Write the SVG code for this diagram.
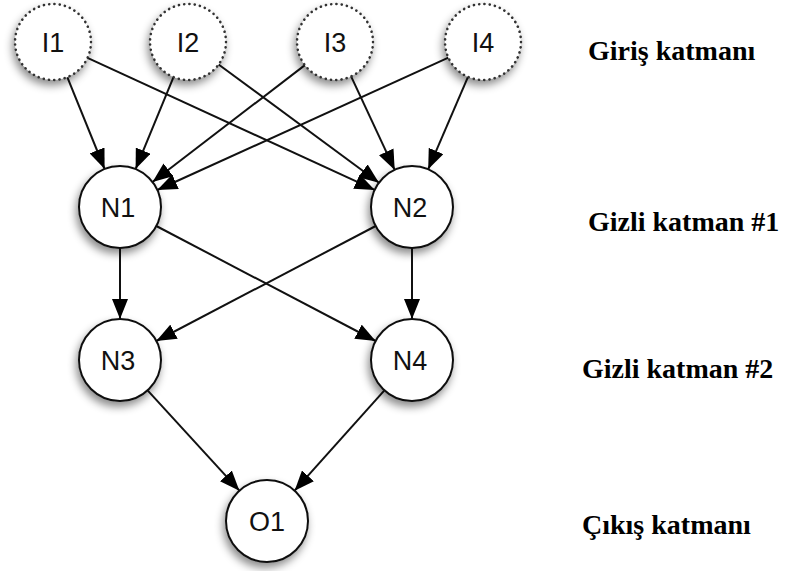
<svg xmlns="http://www.w3.org/2000/svg" width="786" height="571" viewBox="0 0 786 571">
<style>
.bg{fill:#fff}
.inp{fill:#fff;stroke:#333;stroke-width:2.6;stroke-dasharray:0.1 5.2;stroke-linecap:round}
.hid{fill:#fff;stroke:#111;stroke-width:2}
.e{stroke:#111;stroke-width:2;fill:none;marker-end:url(#ah)}
</style>
<defs>
<filter id="sh" x="-50%" y="-50%" width="200%" height="200%">
<feDropShadow dx="-2" dy="5" stdDeviation="4" flood-color="#000" flood-opacity="0.45"/>
</filter>
<marker id="ah" markerUnits="userSpaceOnUse" markerWidth="22" markerHeight="16" refX="20" refY="8" orient="auto">
<path d="M0,0 L20,8 L0,16 Z" fill="#000"/>
</marker>
</defs>
<rect class="bg" width="786" height="571"/>
<g id="connectors">
<line class="e" x1="67.3" y1="77.2" x2="104.6" y2="169"/>
<line class="e" x1="87.5" y1="57.9" x2="374.7" y2="189.9"/>
<line class="e" x1="173.5" y1="77.1" x2="135.6" y2="169.1"/>
<line class="e" x1="218.6" y1="64.5" x2="379" y2="182.7"/>
<line class="e" x1="304.9" y1="65.1" x2="152.5" y2="182"/>
<line class="e" x1="351.1" y1="76.4" x2="394.7" y2="169.9"/>
<line class="e" x1="448.4" y1="57.7" x2="157.3" y2="190"/>
<line class="e" x1="468" y1="76.9" x2="428.2" y2="169.3"/>
<line class="e" x1="120" y1="248" x2="120" y2="319"/>
<line class="e" x1="156.3" y1="226" x2="375.7" y2="341"/>
<line class="e" x1="375.7" y1="226" x2="156.3" y2="341"/>
<line class="e" x1="412" y1="248" x2="412" y2="319"/>
<line class="e" x1="147.6" y1="390.3" x2="239.4" y2="490.7"/>
<line class="e" x1="384.4" y1="390.3" x2="294.6" y2="490.7"/>
</g>
<g font-family="Liberation Sans, Arial, sans-serif" font-size="27" fill="#111" text-anchor="middle">
<g id="I1"><circle class="inp" cx="53" cy="42" r="38" filter="url(#sh)"/><text x="53" y="52">I1</text></g>
<g id="I2"><circle class="inp" cx="188" cy="42" r="38" filter="url(#sh)"/><text x="188" y="52">I2</text></g>
<g id="I3"><circle class="inp" cx="335" cy="42" r="38" filter="url(#sh)"/><text x="335" y="52">I3</text></g>
<g id="I4"><circle class="inp" cx="483" cy="42" r="38" filter="url(#sh)"/><text x="483" y="52">I4</text></g>
<g id="N1"><circle class="hid" cx="120" cy="207" r="41" filter="url(#sh)"/><text x="118" y="217">N1</text></g>
<g id="N2"><circle class="hid" cx="412" cy="207" r="41" filter="url(#sh)"/><text x="410" y="217">N2</text></g>
<g id="N3"><circle class="hid" cx="120" cy="360" r="41" filter="url(#sh)"/><text x="118" y="370">N3</text></g>
<g id="N4"><circle class="hid" cx="412" cy="360" r="41" filter="url(#sh)"/><text x="410" y="370">N4</text></g>
<g id="O1"><circle class="hid" cx="267" cy="521" r="41" filter="url(#sh)"/><text x="267" y="531">O1</text></g>
</g>
<g id="labels" font-family="Liberation Serif, DejaVu Serif, Times New Roman, serif" font-size="28" font-weight="bold" fill="#000">
<text x="588" y="60">Giriş katmanı</text>
<text x="588" y="231">Gizli katman #1</text>
<text x="582" y="378">Gizli katman #2</text>
<text x="582" y="534">Çıkış katmanı</text>
</g>
</svg>
